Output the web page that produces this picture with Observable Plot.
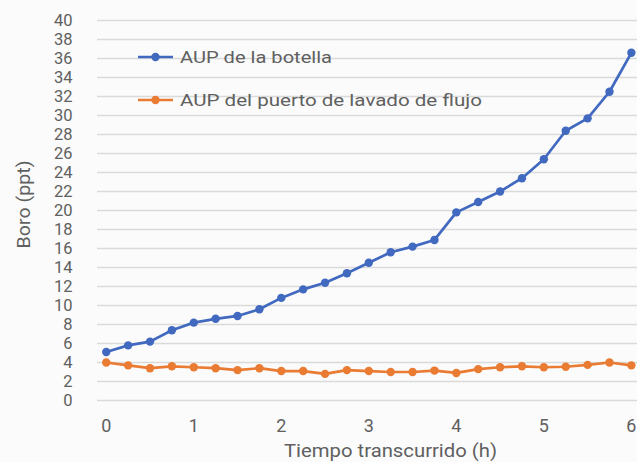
<!DOCTYPE html>
<html>
<head>
<meta charset="utf-8">
<script src="https://cdn.jsdelivr.net/npm/d3@7"></script>
<script src="https://cdn.jsdelivr.net/npm/@observablehq/plot@0.6"></script>
<style>
  html, body { margin: 0; padding: 0; background: #fbfbfb; }
  #wrap { position: relative; width: 637px; height: 462px; font-family: Roboto, "Noto Sans", sans-serif; }
  #legend { position: absolute; left: 0; top: 0; }
</style>
</head>
<body>
<div id="wrap"></div>
<script>
const hours = [0, 0.25, 0.5, 0.75, 1, 1.25, 1.5, 1.75, 2, 2.25, 2.5, 2.75, 3, 3.25, 3.5, 3.75, 4, 4.25, 4.5, 4.75, 5, 5.25, 5.5, 5.75, 6];
const botella = [5.1, 5.8, 6.2, 7.4, 8.2, 8.6, 8.9, 9.6, 10.8, 11.7, 12.4, 13.4, 14.5, 15.6, 16.2, 16.9, 19.8, 20.9, 22.0, 23.4, 25.4, 28.4, 29.7, 32.5, 36.6];
const puerto = [4.0, 3.7, 3.4, 3.6, 3.5, 3.4, 3.2, 3.4, 3.1, 3.1, 2.8, 3.2, 3.1, 3.0, 3.0, 3.15, 2.9, 3.3, 3.5, 3.6, 3.5, 3.55, 3.75, 4.0, 3.7];
const seriesNames = ["AUP de la botella", "AUP del puerto de lavado de flujo"];
const colors = ["#4169BF", "#EA7B33"];
const yTicks = d3.range(0, 41, 2);
const xTicks = [0, 1, 2, 3, 4, 5, 6];
const xTitle = "Tiempo transcurrido (h)";
const yTitle = "Boro (ppt)";

const data = [
  ...hours.map((h, i) => ({x: h, y: botella[i], s: seriesNames[0]})),
  ...hours.map((h, i) => ({x: h, y: puerto[i], s: seriesNames[1]}))
];

const textColor = "#606060";

const chart = Plot.plot({
  width: 637,
  height: 462,
  marginLeft: 97,
  marginRight: 0,
  marginTop: 20,
  marginBottom: 62,
  style: {fontFamily: "Roboto, 'Noto Sans', sans-serif", background: "transparent", color: textColor},
  x: {domain: [-0.1, 6.07]},
  y: {domain: [0, 40]},
  color: {domain: seriesNames, range: colors},
  marks: [
    Plot.gridY(yTicks, {stroke: "#dadada", strokeOpacity: 1, strokeWidth: 1.3}),
    Plot.axisY({ticks: yTicks, tickSize: 0, tickPadding: 25, fontSize: 16.5, fill: textColor, label: yTitle, labelAnchor: "center", labelOffset: 80, labelArrow: "none"}),
    Plot.axisX({ticks: xTicks, tickFormat: "d", tickSize: 0, tickPadding: 19, fontSize: 18, fill: textColor, label: xTitle, labelAnchor: "center", labelOffset: 56, labelArrow: "none"}),
    Plot.line(data, {x: "x", y: "y", z: "s", stroke: "s", strokeWidth: 2.7}),
    Plot.dot(data, {x: "x", y: "y", fill: "s", r: 4.2, stroke: "none"})
  ]
});

// Axis titles: size and stretch to match the reference
chart.querySelectorAll("text").forEach(t => {
  if (t.textContent === xTitle) {
    t.setAttribute("font-size", "18.5");
    t.setAttribute("dx", "23");
    t.setAttribute("textLength", "213");
    t.setAttribute("lengthAdjust", "spacingAndGlyphs");
  } else if (t.textContent === yTitle) {
    t.setAttribute("font-size", "18");
    t.setAttribute("dx", "6");
    t.setAttribute("textLength", "88");
    t.setAttribute("lengthAdjust", "spacingAndGlyphs");
  }
});
document.getElementById("wrap").appendChild(chart);

// Legend (inside plot area, top-left)
const svgNS = "http://www.w3.org/2000/svg";
const leg = document.createElementNS(svgNS, "svg");
leg.setAttribute("id", "legend");
leg.setAttribute("width", "637");
leg.setAttribute("height", "130");
const legendRows = [{cy: 57, len: 152}, {cy: 100, len: 302}];
seriesNames.forEach((name, i) => {
  const g = document.createElementNS(svgNS, "g");
  const cy = legendRows[i].cy;
  g.innerHTML = `<line x1="138" y1="${cy}" x2="173" y2="${cy}" stroke="${colors[i]}" stroke-width="2.7"/>` +
    `<circle cx="155.5" cy="${cy}" r="4.2" fill="${colors[i]}"/>` +
    `<text x="180" y="${cy + 6}" font-size="16" fill="${textColor}" font-family="Roboto, 'Noto Sans', sans-serif" textLength="${legendRows[i].len}" lengthAdjust="spacingAndGlyphs">${name}</text>`;
  leg.appendChild(g);
});
document.getElementById("wrap").appendChild(leg);
</script>
</body>
</html>
